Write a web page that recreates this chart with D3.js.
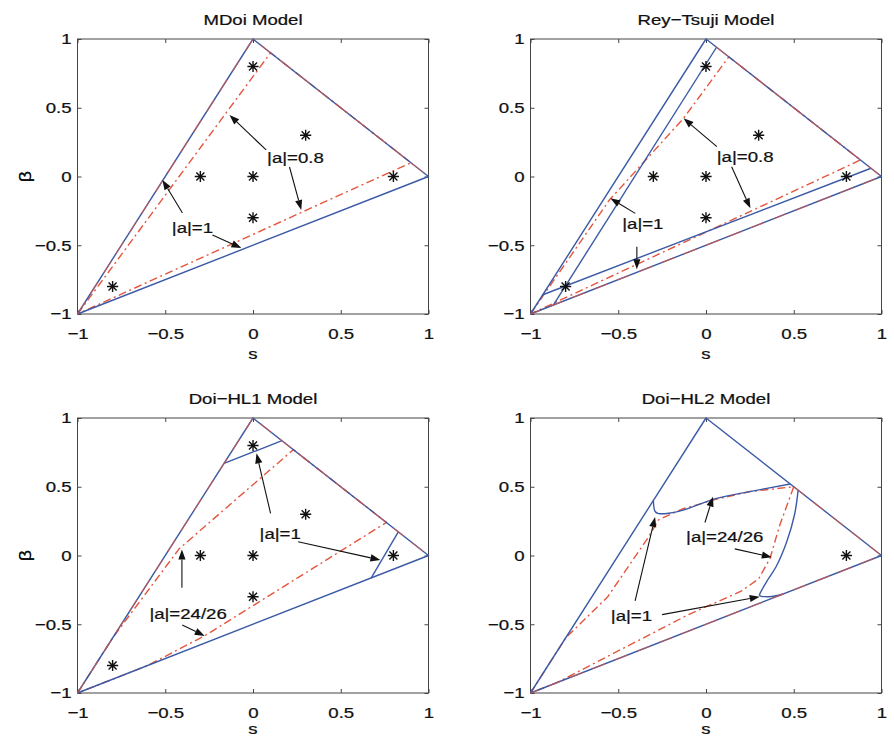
<!DOCTYPE html>
<html>
<head>
<meta charset="utf-8">
<title>Model regions in the s-beta plane</title>
<script src="https://cdnjs.cloudflare.com/ajax/libs/d3/7.8.5/d3.min.js"></script>
<style>
  body { margin: 0; background: #fff; }
</style>
</head>
<body>
<div id="chart"></div>
<script>
var width = 894, height = 740;
var FONT = "'Liberation Sans', Arial, Helvetica, sans-serif";
var FS = 15.5, SX = 1.2;          // text is a bit stretched sideways in the original
var BLUE = "#3b5aa6", RED = "#e4553e", AXIS = "#444";

// ---- data -------------------------------------------------------------
var tickValues = [-1, -0.5, 0, 0.5, 1];
var titles = ["MDoi Model", "Rey\u2212Tsuji Model", "Doi\u2212HL1 Model", "Doi\u2212HL2 Model"];

var triangle = [[-1, -1], [0, 1], [1, 0], [-1, -1]];
var stars = [[0, 0.8], [0.3, 0.3], [-0.3, 0], [0, 0], [0.8, 0], [0, -0.3], [-0.8, -0.8]];
var starsHL2 = [[0.8, 0]];

// MDoi
var mdoiRed = [[-1, -1], [0, 1], [1, 0]];
var mdoiDash = [[-1, -1], [0.1, 0.9], [0.9, 0.1], [-1, -1]];
var mdoiLabels = [["|a|=0.8", 0.242, 0.135], ["|a|=1", -0.345, -0.375]];
var mdoiArrows = [[0.075, 0.193, -0.134, 0.447], [0.208, 0.069, 0.275, -0.244],
                  [-0.402, -0.265, -0.516, -0.025], [-0.231, -0.425, -0.066, -0.52]];

// Rey-Tsuji
var reyRed = [[0.06, 0.94], [1, 0], [-1, -1]];
var reyBlue1 = [[-0.87, -0.935], [0.06, 0.94]];
var reyBlue2 = [[-0.93, -0.86], [0.94, 0.06]];
var reyDash = [[-1, -1], [-0.55, -0.17], [-0.13, 0.42], [0.13, 0.87], [0.88, 0.12], [-1, -1]];
var reyLabels = [["|a|=0.8", 0.223, 0.144], ["|a|=1", -0.36, -0.345]];
var reyArrows = [[0.062, 0.217, -0.128, 0.423], [0.146, 0.071, 0.253, -0.231],
                 [-0.403, -0.268, -0.545, -0.159], [-0.394, -0.51, -0.394, -0.675]];

// Doi-HL1
var hl1Red = [[-1, -1], [0, 1], [1, 0]];
var hl1Blue1 = [[-0.165, 0.67], [0.165, 0.835]];
var hl1Blue2 = [[0.828, 0.172], [0.673, -0.164]];
var hl1Dash = [[-1, -1], [-0.8, -0.6], [-0.42, 0.05], [0.23, 0.77], [0.76, 0.24],
               [-0.27, -0.58], [-0.6, -0.8], [-1, -1]];
var hl1Labels = [["|a|=1", 0.155, 0.161], ["|a|=24/26", -0.37, -0.42]];
var hl1Arrows = [[0.10, 0.307, 0.02, 0.743], [0.257, 0.10, 0.726, -0.033],
                 [-0.405, -0.235, -0.405, 0.044], [-0.403, -0.505, -0.275, -0.585]];

// Doi-HL2
var hl2Red = [[0.5, 0.5], [1, 0], [-1, -1]];
var hl2BlueUpper = [[-0.3, 0.4], [-0.29, 0.32], [-0.27, 0.305], [-0.2, 0.31], [-0.13, 0.33],
                    [0.06, 0.415], [0.25, 0.465], [0.48, 0.52]];
var hl2BlueRight = [[0.525, 0.475], [0.505, 0.3], [0.46, 0.1], [0.4, -0.08], [0.35, -0.18],
                    [0.31, -0.27], [0.305, -0.29], [0.36, -0.3], [0.44, -0.28]];
var hl2DashUpper = [[-1, -1], [-0.8, -0.6], [-0.56, -0.3], [-0.33, 0.13], [-0.27, 0.26],
                    [-0.13, 0.34], [0.06, 0.41], [0.25, 0.465], [0.5, 0.5]];
var hl2DashLower = [[0.5, 0.5], [0.42, 0.22], [0.365, -0.02], [0.3, -0.17], [0.2, -0.26],
                    [-0.1, -0.43], [-0.57, -0.74], [-0.85, -0.925], [-1, -1]];
var hl2Labels = [["|a|=24/26", 0.107, 0.137], ["|a|=1", -0.425, -0.438]];
var hl2Arrows = [[-0.006, 0.24, 0.04, 0.428], [0.164, 0.048, 0.375, -0.012],
                 [-0.404, -0.33, -0.29, 0.28], [-0.25, -0.43, 0.306, -0.3]];

// ---- layout -----------------------------------------------------------
var frames = [
  {x0: 77.5, x1: 428.5, y0: 39, y1: 314},
  {x0: 530.5, x1: 881.5, y0: 39, y1: 314},
  {x0: 77.5, x1: 428.5, y0: 418, y1: 693},
  {x0: 530.5, x1: 881.5, y0: 418, y1: 693}
];

var panels = [
  {blue: [triangle], red: [mdoiRed], dash: [mdoiDash], curves: [], stars: stars,
   labels: mdoiLabels, arrows: mdoiArrows},
  {blue: [triangle, reyBlue1, reyBlue2], red: [reyRed], dash: [reyDash], curves: [], stars: stars,
   labels: reyLabels, arrows: reyArrows},
  {blue: [triangle, hl1Blue1, hl1Blue2], red: [hl1Red], dash: [hl1Dash], curves: [], stars: stars,
   labels: hl1Labels, arrows: hl1Arrows},
  {blue: [triangle], red: [hl2Red], dash: [hl2DashUpper, hl2DashLower],
   curves: [hl2BlueUpper, hl2BlueRight], stars: starsHL2,
   labels: hl2Labels, arrows: hl2Arrows}
];

var svg = d3.select("#chart").append("svg")
    .attr("width", width)
    .attr("height", height)
    .style("background", "#fff");

// MATLAB-like '*' marker
var asterisk = {
  draw: function (ctx, size) {
    var r = Math.sqrt(size) / 2, d = r * 0.72;
    ctx.moveTo(-r, 0); ctx.lineTo(r, 0);
    ctx.moveTo(0, -r); ctx.lineTo(0, r);
    ctx.moveTo(-d, -d); ctx.lineTo(d, d);
    ctx.moveTo(-d, d); ctx.lineTo(d, -d);
  }
};

function stretchedText(g, str, x, y, anchor) {
  return g.append("text")
      .attr("transform", "translate(" + x + "," + y + ") scale(" + SX + ",1)")
      .attr("text-anchor", anchor || "middle")
      .attr("font-family", FONT)
      .attr("font-size", FS)
      .attr("fill", "#111")
      .attr("stroke", "#111").attr("stroke-width", 0.25)
      .text(str);
}

function drawArrow(g, x1, y1, x2, y2) {
  var len = 10, half = 3.6;
  var dx = x2 - x1, dy = y2 - y1, L = Math.sqrt(dx * dx + dy * dy);
  var ux = dx / L, uy = dy / L;
  var bx = x2 - ux * len, by = y2 - uy * len;
  g.append("line")
      .attr("x1", x1).attr("y1", y1).attr("x2", bx).attr("y2", by)
      .attr("stroke", "#111").attr("stroke-width", 1.1);
  g.append("path")
      .attr("d", "M" + x2 + "," + y2 +
                 "L" + (bx - uy * half) + "," + (by + ux * half) +
                 "L" + (bx + uy * half) + "," + (by - ux * half) + "Z")
      .attr("fill", "#111");
}

var tickFmt = d3.format("~g");

panels.forEach(function (p, i) {
  var f = frames[i];
  var x = d3.scaleLinear().domain([-1, 1]).range([f.x0, f.x1]);
  var y = d3.scaleLinear().domain([-1, 1]).range([f.y1, f.y0]);
  var g = svg.append("g");
  var line = d3.line().x(function (d) { return x(d[0]); }).y(function (d) { return y(d[1]); });
  var smooth = d3.line().curve(d3.curveCatmullRom.alpha(0.5))
      .x(function (d) { return x(d[0]); }).y(function (d) { return y(d[1]); });

  // axes (ticks pointing inward on all four sides)
  var axes = [
    {ax: d3.axisBottom(x).tickFormat(tickFmt).tickPadding(13.5), t: "translate(0," + f.y1 + ")"},
    {ax: d3.axisTop(x).tickFormat(""), t: "translate(0," + f.y0 + ")"},
    {ax: d3.axisLeft(y).tickFormat(tickFmt).tickPadding(6 / SX), t: "translate(" + f.x0 + ",0)"},
    {ax: d3.axisRight(y).tickFormat(""), t: "translate(" + f.x1 + ",0)"}
  ];
  axes.forEach(function (a) {
    a.ax.tickValues(tickValues).tickSizeInner(-4).tickSizeOuter(0);
    var ag = g.append("g").attr("transform", a.t).call(a.ax)
        .attr("color", AXIS);
    ag.select(".domain").remove();
    ag.selectAll("text")
        .attr("font-family", FONT)
        .attr("font-size", FS)
        .attr("fill", "#111")
        .attr("stroke", "#111").attr("stroke-width", 0.25)
        .attr("transform", "scale(" + SX + ",1)");
  });
  g.append("rect")
      .attr("x", f.x0).attr("y", f.y0)
      .attr("width", f.x1 - f.x0).attr("height", f.y1 - f.y0)
      .attr("fill", "none").attr("stroke", AXIS).attr("stroke-width", 1);

  // title and axis labels
  var cx = (f.x0 + f.x1) / 2, cy = (f.y0 + f.y1) / 2;
  stretchedText(g, titles[i], cx, f.y0 - 14);
  stretchedText(g, "s", cx, Math.min(f.y1 + 45, height - 6));
  g.append("text")
      .attr("transform", "translate(" + 25 + "," + cy + ") rotate(-90) scale(" + SX + ",1)")
      .attr("text-anchor", "middle")
      .attr("dy", "0.35em")
      .attr("font-family", FONT)
      .attr("font-size", FS + 1)
      .attr("fill", "#111")
      .text("\u03b2");

  // curves
  p.dash.forEach(function (d) {
    g.append("path").attr("d", line(d)).attr("fill", "none")
        .attr("stroke", RED).attr("stroke-width", 1.4)
        .attr("stroke-dasharray", "8,3.5,2,3.5");
  });
  p.blue.forEach(function (d) {
    g.append("path").attr("d", line(d)).attr("fill", "none")
        .attr("stroke", BLUE).attr("stroke-width", 1.4)
        .attr("stroke-linejoin", "round");
  });
  p.curves.forEach(function (d) {
    g.append("path").attr("d", smooth(d)).attr("fill", "none")
        .attr("stroke", BLUE).attr("stroke-width", 1.4);
  });
  p.red.forEach(function (d) {
    g.append("path").attr("d", line(d)).attr("fill", "none")
        .attr("stroke", RED).attr("stroke-width", 1.1).attr("stroke-opacity", 0.75)
        .attr("stroke-dasharray", "14,10");
  });

  // markers
  g.selectAll("path.star").data(p.stars).enter().append("path")
      .attr("class", "star")
      .attr("transform", function (d) { return "translate(" + x(d[0]) + "," + y(d[1]) + ")"; })
      .attr("d", d3.symbol().type(asterisk).size(125))
      .attr("fill", "none").attr("stroke", "#111").attr("stroke-width", 1.4);

  // annotations
  p.arrows.forEach(function (a) {
    drawArrow(g, x(a[0]), y(a[1]), x(a[2]), y(a[3]));
  });
  p.labels.forEach(function (l) {
    stretchedText(g, l[0], x(l[1]), y(l[2])).attr("dy", "0.35em");
  });
});
</script>
</body>
</html>
